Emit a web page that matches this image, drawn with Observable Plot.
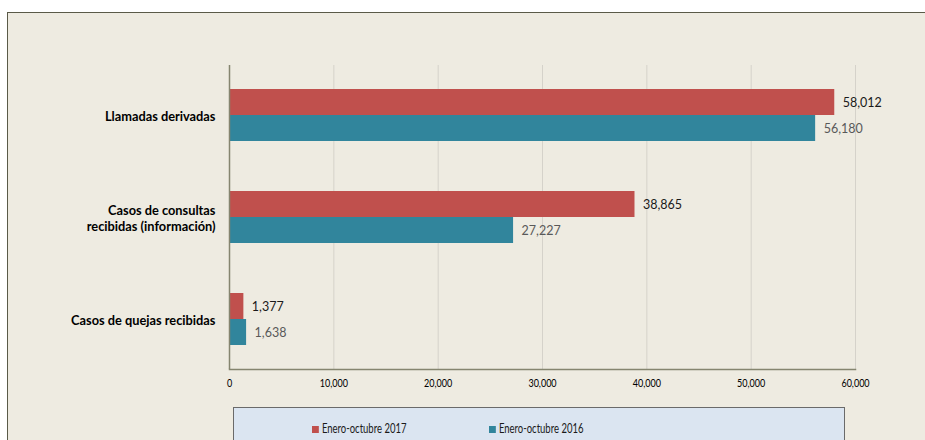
<!DOCTYPE html>
<html><head><meta charset="utf-8">
<script src="https://cdn.jsdelivr.net/npm/d3@7"></script>
<script src="https://cdn.jsdelivr.net/npm/@observablehq/plot@0.6"></script>
<style>
body{margin:0;background:#fff;width:925px;height:440px;overflow:hidden;position:relative;font-family:Lato,sans-serif}
#frame{position:absolute;left:7px;top:12px;width:940px;height:450px;border-top:1.5px solid #5a5a48;border-left:1.5px solid #5a5a48;background:#EEEBE1}
#chart{position:absolute;left:0;top:0}
#legend{position:absolute;left:233px;top:407px;width:610px;height:50px;border:1.5px solid #6a6a6a;background:#DBE5F1}
.item{position:absolute;top:13px;font-size:12.5px;color:#1a1a1a;white-space:nowrap;transform:scaleX(0.76);transform-origin:left center}
.sw{display:inline-block;width:9px;height:7px;margin-right:4px;vertical-align:0px}
</style></head><body>
<div id="frame"></div><div id="chart"></div><div id="legend"></div>
<script>
const categories = ["Llamadas derivadas", "Casos de consultas\nrecibidas (información)", "Casos de quejas recibidas"];
const series = ["Enero-octubre 2017", "Enero-octubre 2016"];
const values2017 = [58012, 38865, 1377];
const values2016 = [56180, 27227, 1638];
const xTicks = [0, 10000, 20000, 30000, 40000, 50000, 60000];
const colors = ["#C0504D", "#31859C"];

const data2017 = categories.map((c, i) => ({category: c, value: values2017[i]}));
const data2016 = categories.map((c, i) => ({category: c, value: values2016[i]}));
const fmt = d3.format(",");

const plot = Plot.plot({
  width: 925, height: 400,
  marginLeft: 229, marginRight: 70, marginTop: 65, marginBottom: 31,
  style: {background: "transparent", fontFamily: "Lato, sans-serif", overflow: "visible"},
  x: {domain: [0, 60000]},
  y: {domain: categories, paddingInner: 0.49, paddingOuter: 0.235},
  marks: [
    Plot.gridX(xTicks, {stroke: "#D5D2CA", strokeOpacity: 1}),
    Plot.barX(data2017, {y: "category", x: "value", fill: colors[0], insetBottom: 26}),
    Plot.barX(data2016, {y: "category", x: "value", fill: colors[1], insetTop: 26}),
    Plot.text(data2017, {y: "category", x: "value", text: d => fmt(d.value), dx: 8, dy: -13, textAnchor: "start", fill: "#1a1a1a", fontSize: 12.5}),
    Plot.text(data2016, {y: "category", x: "value", text: d => fmt(d.value), dx: 8, dy: 13, textAnchor: "start", fill: "#595959", fontSize: 12.5}),
    Plot.ruleX([0], {stroke: "#85856f", strokeWidth: 1.5}),
    Plot.frame({anchor: "bottom", stroke: "#85856f", strokeWidth: 1.5}),
    Plot.axisX({ticks: xTicks, tickSize: 0, tickPadding: 10, tickFormat: fmt, fontSize: 11, fill: "#000", label: null}),
    Plot.axisY({tickSize: 0, tickPadding: 14, fontSize: 12.8, fontWeight: "bold", lineHeight: 1.3, fill: "#000", label: null})
  ]
});
document.getElementById("chart").appendChild(plot);
// condense x tick labels horizontally (narrow font look)
plot.querySelectorAll('g[aria-label="x-axis tick label"] text').forEach(t => {
  const tr = t.getAttribute("transform") || "";
  t.setAttribute("transform", tr + " scale(0.82,1)");
});

const legend = document.getElementById("legend");
const legendX = [78, 255];
series.forEach((s, i) => {
  const it = document.createElement("div");
  it.className = "item";
  it.style.left = legendX[i] + "px";
  it.innerHTML = `<span class="sw" style="background:${colors[i]}"></span>${s}`;
  legend.appendChild(it);
});
</script>
</body></html>
